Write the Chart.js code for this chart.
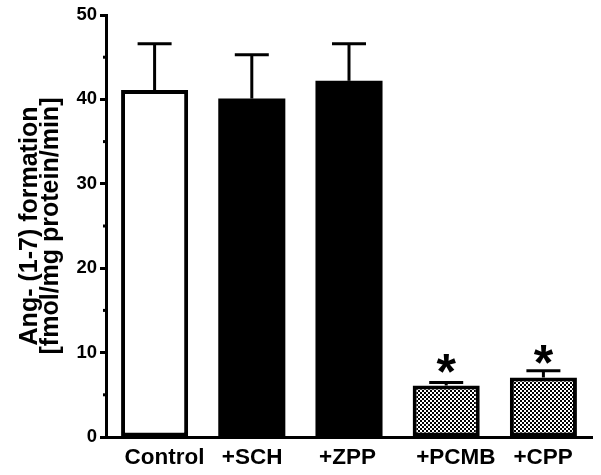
<!DOCTYPE html>
<html>
<head>
<meta charset="utf-8">
<script src="https://cdn.jsdelivr.net/npm/chart.js@4/dist/chart.umd.min.js"></script>
<style>
  html, body { margin: 0; padding: 0; background: #ffffff; }
  #wrap { width: 601px; height: 475px; }
</style>
</head>
<body>
<div id="wrap"><canvas id="c" width="601" height="475"></canvas></div>
<script>
// ---- data ----
const categories = ['Control', '+SCH', '+ZPP', '+PCMB', '+CPP'];
const means = [41.1, 40.1, 42.2, 6.1, 7.05];
const semUpper = [5.5, 5.2, 4.4, 0.35, 0.8];
const significant = [false, false, false, true, true];
const yTickValues = [0, 10, 20, 30, 40, 50];
const yMinorTickValues = [5, 15, 25, 35, 45];
const yTitle = ['Ang- (1-7) formation', '[fmol/mg protein/min]'];

// ---- styles ----
const fillKinds = ['white', 'black', 'black', 'checker', 'checker'];
function makeChecker() {
  const p = document.createElement('canvas');
  p.width = 4; p.height = 4;
  const g = p.getContext('2d');
  g.fillStyle = '#ffffff'; g.fillRect(0, 0, 4, 4);
  g.fillStyle = '#000000'; g.fillRect(0, 0, 2, 2); g.fillRect(2, 2, 2, 2);
  return g.createPattern(p, 'repeat');
}
const checker = makeChecker();
const fills = fillKinds.map(k => k === 'white' ? '#ffffff' : k === 'black' ? '#000000' : checker);
const borderWidths = fillKinds.map(k => k === 'black' ? 0 : 4);

const FONT = '"Liberation Sans", Arial, Helvetica, sans-serif';

const extrasPlugin = {
  id: 'extras',
  afterDatasetsDraw(chart) {
    const ctx = chart.ctx;
    const y = chart.scales.y;
    const meta = chart.getDatasetMeta(0);
    ctx.save();
    ctx.strokeStyle = '#000';
    ctx.fillStyle = '#000';
    ctx.lineWidth = 3;
    ctx.lineCap = 'butt';
    meta.data.forEach((bar, i) => {
      const x = bar.x;
      const yTop = y.getPixelForValue(means[i]);
      const yErr = y.getPixelForValue(means[i] + semUpper[i]);
      ctx.beginPath();
      ctx.moveTo(x, yTop);
      ctx.lineTo(x, yErr);
      ctx.stroke();
      ctx.beginPath();
      ctx.moveTo(x - 17, yErr);
      ctx.lineTo(x + 17, yErr);
      ctx.stroke();
      if (significant[i]) {
        ctx.font = 'bold 50px ' + FONT;
        ctx.textAlign = 'center';
        ctx.textBaseline = 'alphabetic';
        const m = ctx.measureText('*');
        const inkMid = (m.actualBoundingBoxAscent - m.actualBoundingBoxDescent) / 2;
        const target = yTop - 22.5;
        ctx.fillText('*', x, target + inkMid);
      }
    });
    ctx.restore();
  },
  afterDraw(chart) {
    const ctx = chart.ctx;
    const y = chart.scales.y;
    const left = chart.chartArea.left;
    ctx.save();
    ctx.strokeStyle = '#000';
    ctx.lineWidth = 3;
    yMinorTickValues.forEach(v => {
      const py = y.getPixelForValue(v);
      ctx.beginPath();
      ctx.moveTo(left - 3, py);
      ctx.lineTo(left, py);
      ctx.stroke();
    });
    ctx.restore();
  }
};

new Chart(document.getElementById('c'), {
  type: 'bar',
  data: {
    labels: categories,
    datasets: [{
      data: means,
      backgroundColor: fills,
      borderColor: '#000000',
      borderWidth: borderWidths,
      borderSkipped: false,
      barPercentage: 0.69,
      categoryPercentage: 1.0
    }]
  },
  options: {
    responsive: false,
    animation: false,
    devicePixelRatio: 1,
    layout: { padding: { left: 0, top: 15, right: 9, bottom: 0 } },
    plugins: {
      legend: { display: false },
      tooltip: { enabled: false }
    },
    scales: {
      x: {
        grid: { display: false, drawTicks: false },
        border: { display: true, color: '#000', width: 3 },
        ticks: {
          color: '#000',
          padding: 7,
          align: 'start',
          labelOffset: -30,
          font: { family: FONT, size: 22.5, weight: 'bold' },
          maxRotation: 0
        },
        afterFit(scale) {
          scale.height = 38;
          scale.paddingLeft = 0;
          scale.paddingRight = 0;
        }
      },
      y: {
        min: 0,
        max: 50,
        afterBuildTicks(scale) { scale.ticks = yTickValues.map(v => ({ value: v })); },
        grid: { drawOnChartArea: false, drawTicks: true, tickLength: 6, tickWidth: 3, tickColor: '#000' },
        border: { display: true, color: '#000', width: 3 },
        ticks: {
          color: '#000',
          padding: 3,
          font: { family: FONT, size: 18.5, weight: 'bold' }
        },
        title: {
          display: true,
          text: yTitle,
          color: '#000',
          font: { family: FONT, size: 25, weight: 'bold', lineHeight: 0.82 },
          padding: { top: 20, bottom: 0 }
        },
        afterFit(scale) { scale.width = 106; }
      }
    }
  },
  plugins: [extrasPlugin]
});
</script>
</body>
</html>
